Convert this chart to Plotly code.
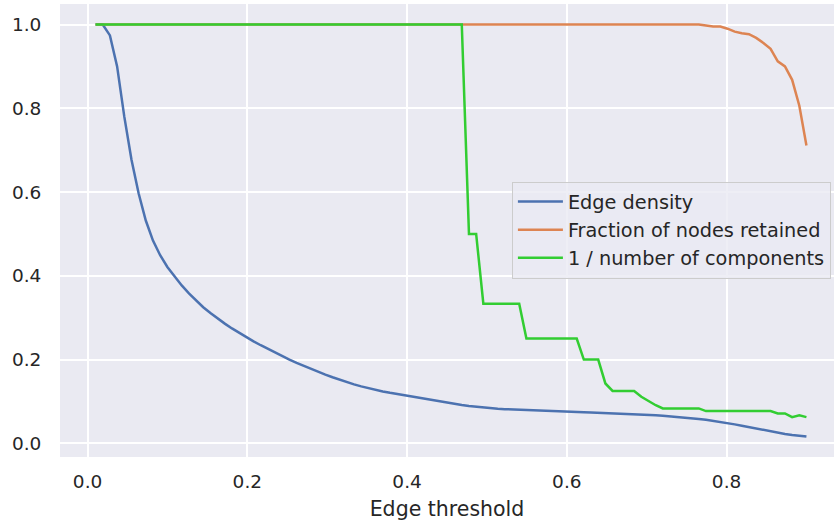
import plotly.graph_objects as go

# Edge thresholds swept from 0.01 to 0.90 (100 steps)
thresholds = [
    0.0100, 0.0190, 0.0280, 0.0370, 0.0460, 0.0550, 0.0639, 0.0729, 0.0819, 0.0909,
    0.0999, 0.1089, 0.1179, 0.1269, 0.1359, 0.1448, 0.1538, 0.1628, 0.1718, 0.1808,
    0.1898, 0.1988, 0.2078, 0.2168, 0.2258, 0.2347, 0.2437, 0.2527, 0.2617, 0.2707,
    0.2797, 0.2887, 0.2977, 0.3067, 0.3157, 0.3247, 0.3336, 0.3426, 0.3516, 0.3606,
    0.3696, 0.3786, 0.3876, 0.3966, 0.4056, 0.4146, 0.4236, 0.4325, 0.4415, 0.4505,
    0.4595, 0.4685, 0.4775, 0.4865, 0.4955, 0.5045, 0.5135, 0.5224, 0.5314, 0.5404,
    0.5494, 0.5584, 0.5674, 0.5764, 0.5854, 0.5944, 0.6034, 0.6124, 0.6213, 0.6303,
    0.6393, 0.6483, 0.6573, 0.6663, 0.6753, 0.6843, 0.6933, 0.7023, 0.7113, 0.7202,
    0.7292, 0.7382, 0.7472, 0.7562, 0.7652, 0.7742, 0.7832, 0.7922, 0.8012, 0.8102,
    0.8191, 0.8281, 0.8371, 0.8461, 0.8551, 0.8641, 0.8731, 0.8821, 0.8911, 0.9000,
]

edge_density = [
    1.000, 1.000, 0.974, 0.900, 0.780, 0.677, 0.597, 0.532, 0.484, 0.449,
    0.421, 0.398, 0.377, 0.358, 0.3405, 0.325, 0.311, 0.298, 0.2858, 0.2743,
    0.2635, 0.2533, 0.2435, 0.2342, 0.2252, 0.2165, 0.2081, 0.2000, 0.1922, 0.1847,
    0.1775, 0.1706, 0.1640, 0.1577, 0.1517, 0.1460, 0.1408, 0.1360, 0.1316, 0.1276,
    0.1239, 0.1205, 0.1174, 0.1145, 0.1114, 0.1083, 0.1053, 0.1023, 0.0994, 0.0966,
    0.0939, 0.0913, 0.0889, 0.0869, 0.0852, 0.0838, 0.0826, 0.0816, 0.08075, 0.07995,
    0.07917, 0.07841, 0.07767, 0.07695, 0.07625, 0.07555, 0.0750, 0.07445, 0.0739, 0.07335,
    0.0728, 0.0722, 0.0716, 0.0710, 0.07035, 0.06965, 0.0689, 0.0680, 0.0670, 0.0659,
    0.0646, 0.0632, 0.0616, 0.0599, 0.0580, 0.0560, 0.0536, 0.0510, 0.0483, 0.0452,
    0.0419, 0.0385, 0.0351, 0.0318, 0.0285, 0.0253, 0.0224, 0.0200, 0.0178, 0.0162,
]

nodes_retained = [1.0] * 85 + [
    0.9975, 0.995, 0.995, 0.990, 0.983, 0.979, 0.977, 0.968, 0.956, 0.942,
    0.912, 0.900, 0.868, 0.806, 0.711,
]

# number of connected components at each threshold
n_components = (
    [1] * 52 + [2] * 2 + [3] * 6 + [4] * 8 + [5] * 3 + [7] + [8] * 4
    + [9, 10, 11] + [12] * 6 + [13] * 10 + [14] * 2 + [16, 15, 16]
)
inv_components = [1.0 / n for n in n_components]

series = [
    ("Edge density", edge_density, "#4C72B0"),
    ("Fraction of nodes retained", nodes_retained, "#DD8452"),
    ("1 / number of components", inv_components, "#32CD32"),
]

fig = go.Figure()
for name, values, color in series:
    fig.add_trace(go.Scatter(
        x=thresholds, y=values, mode="lines", name=name,
        line=dict(color=color, width=2.5),
    ))

font_family = "DejaVu Sans"
text_color = "#262626"
axis_common = dict(
    showgrid=True, gridcolor="white", gridwidth=1.5,
    zeroline=False, showline=False,
    ticks="outside", tickcolor="rgba(0,0,0,0)",
    tickfont=dict(family=font_family, size=18.5, color=text_color),
    tickformat=".1f",
)

fig.update_layout(
    width=836, height=521,
    margin=dict(l=60, r=2, t=4, b=64, autoexpand=False),
    paper_bgcolor="white",
    plot_bgcolor="#EAEAF2",
    font=dict(family=font_family, color=text_color),
    xaxis=dict(
        range=[-0.0345, 0.9345], dtick=0.2, tick0=0, ticklen=8,
        title=dict(text="Edge threshold", standoff=10,
                   font=dict(family=font_family, size=20.5, color=text_color)),
        **axis_common,
    ),
    yaxis=dict(range=[-0.0327, 1.049], dtick=0.2, tick0=0, ticklen=10,
               ticklabelstandoff=4, **axis_common),
    legend=dict(
        x=0.996, y=0.608, xanchor="right", yanchor="top",
        itemwidth=45,
        bgcolor="rgba(234,234,242,0.8)", bordercolor="#CCCCCC", borderwidth=1,
        font=dict(family=font_family, size=19.3, color=text_color),
    ),
    showlegend=True,
)

fig.write_html("out.html")
